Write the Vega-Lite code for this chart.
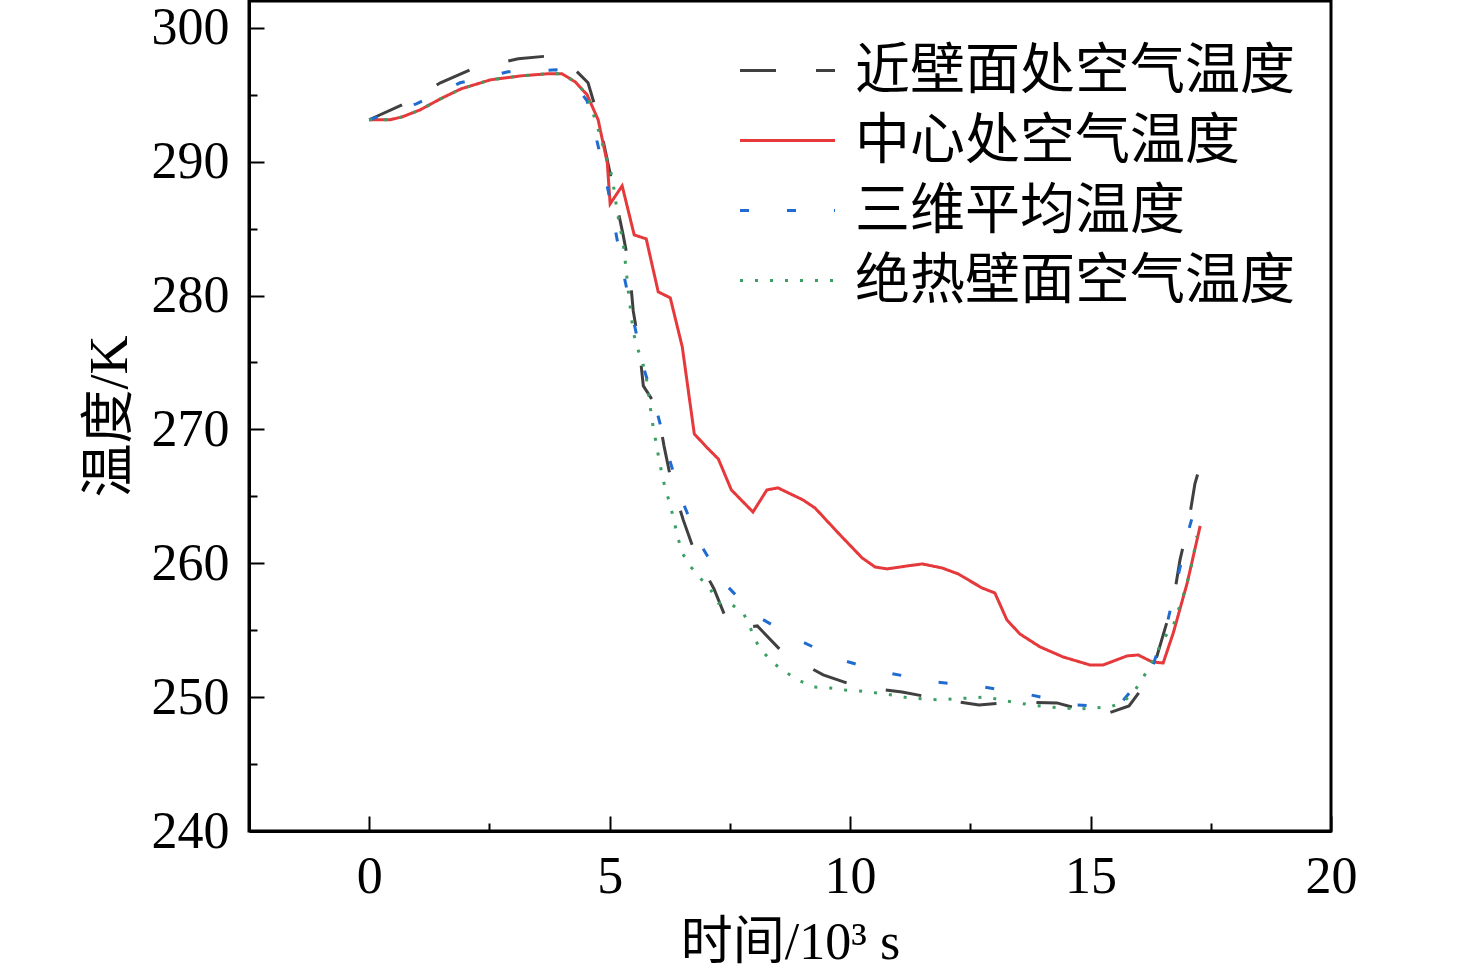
{
  "$schema": "https://vega.github.io/schema/vega-lite/v6.json",
  "width": 1082,
  "height": 830,
  "autosize": {"type": "none"},
  "padding": {"left": 249, "top": 1, "right": 145, "bottom": 144},
  "background": "white",
  "config": {"view": {"stroke": "black", "strokeWidth": 3}, "font": "Liberation Serif"},
  "data": {"values": [
    {"s":"近壁面处空气温度","t":0,"v":293.13},{"s":"近壁面处空气温度","t":0.69,"v":294.25},{"s":"近壁面处空气温度","t":1.48,"v":295.89},{"s":"近壁面处空气温度","t":2.2,"v":297.01},{"s":"近壁面处空气温度","t":3.1,"v":297.68},{"s":"近壁面处空气温度","t":3.97,"v":297.98},{"s":"近壁面处空气温度","t":4.55,"v":295.89},{"s":"近壁面处空气温度","t":4.76,"v":293.35},{"s":"近壁面处空气温度","t":5.28,"v":284.53},{"s":"近壁面处空气温度","t":5.41,"v":282.07},{"s":"近壁面处空气温度","t":5.49,"v":278.85},{"s":"近壁面处空气温度","t":5.61,"v":276.31},{"s":"近壁面处空气温度","t":5.7,"v":273.25},{"s":"近壁面处空气温度","t":5.99,"v":271.61},{"s":"近壁面处空气温度","t":6.13,"v":268.77},{"s":"近壁面处空气温度","t":6.28,"v":266.15},{"s":"近壁面处空气温度","t":6.53,"v":263.24},{"s":"近壁面处空气温度","t":6.78,"v":260.7},{"s":"近壁面处空气温度","t":7.17,"v":258.08},{"s":"近壁面处空气温度","t":7.44,"v":255.69},{"s":"近壁面处空气温度","t":7.53,"v":255.02},{"s":"近壁面处空气温度","t":8.07,"v":255.32},{"s":"近壁面处空气温度","t":8.61,"v":253.3},{"s":"近壁面处空气温度","t":9.44,"v":251.66},{"s":"近壁面处空气温度","t":10.17,"v":250.76},{"s":"近壁面处空气温度","t":11.08,"v":250.39},{"s":"近壁面处空气温度","t":11.83,"v":249.87},{"s":"近壁面处空气温度","t":12.68,"v":249.42},{"s":"近壁面处空气温度","t":13.47,"v":249.64},{"s":"近壁面处空气温度","t":14.3,"v":249.57},{"s":"近壁面处空气温度","t":15.07,"v":248.82},{"s":"近壁面处空气温度","t":15.26,"v":248.67},{"s":"近壁面处空气温度","t":15.8,"v":249.34},{"s":"近壁面处空气温度","t":16.26,"v":251.58},{"s":"近壁面处空气温度","t":16.51,"v":254.65},{"s":"近壁面处空气温度","t":16.72,"v":257.18},{"s":"近壁面处空气温度","t":16.86,"v":260.25},{"s":"近壁面处空气温度","t":17.03,"v":262.86},{"s":"近壁面处空气温度","t":17.17,"v":265.93},{"s":"近壁面处空气温度","t":17.3,"v":267.57},
    {"s":"中心处空气温度","t":0,"v":293.13},{"s":"中心处空气温度","t":0.44,"v":293.13},{"s":"中心处空气温度","t":0.69,"v":293.35},{"s":"中心处空气温度","t":1.06,"v":293.87},{"s":"中心处空气温度","t":1.48,"v":294.69},{"s":"中心处空气温度","t":1.91,"v":295.44},{"s":"中心处空气温度","t":2.52,"v":296.11},{"s":"中心处空气温度","t":3.16,"v":296.41},{"s":"中心处空气温度","t":3.7,"v":296.56},{"s":"中心处空气温度","t":4.01,"v":296.56},{"s":"中心处空气温度","t":4.28,"v":295.97},{"s":"中心处空气温度","t":4.53,"v":295.0},{"s":"中心处空气温度","t":4.76,"v":293.13},{"s":"中心处空气温度","t":4.95,"v":289.91},{"s":"中心处空气温度","t":5.01,"v":286.85},{"s":"中心处空气温度","t":5.26,"v":288.19},{"s":"中心处空气温度","t":5.51,"v":284.53},{"s":"中心处空气温度","t":5.76,"v":284.23},{"s":"中心处空气温度","t":6.01,"v":280.27},{"s":"中心处空气温度","t":6.26,"v":279.83},{"s":"中心处空气温度","t":6.51,"v":276.16},{"s":"中心处空气温度","t":6.76,"v":269.66},{"s":"中心处空气温度","t":7.03,"v":268.62},{"s":"中心处空气温度","t":7.26,"v":267.79},{"s":"中心处空气温度","t":7.53,"v":265.48},{"s":"中心处空气温度","t":7.98,"v":263.83},{"s":"中心处空气温度","t":8.27,"v":265.48},{"s":"中心处空气温度","t":8.5,"v":265.63},{"s":"中心处空气温度","t":9.02,"v":264.73},{"s":"中心处空气温度","t":9.27,"v":264.13},{"s":"中心处空气温度","t":9.79,"v":262.12},{"s":"中心处空气温度","t":10.25,"v":260.4},{"s":"中心处空气温度","t":10.52,"v":259.72},{"s":"中心处空气温度","t":10.77,"v":259.58},{"s":"中心处空气温度","t":11.19,"v":259.8},{"s":"中心处空气温度","t":11.5,"v":259.95},{"s":"中心处空气温度","t":11.91,"v":259.65},{"s":"中心处空气温度","t":12.25,"v":259.2},{"s":"中心处空气温度","t":12.74,"v":258.16},{"s":"中心处空气温度","t":13.01,"v":257.78},{"s":"中心处空气温度","t":13.26,"v":255.77},{"s":"中心处空气温度","t":13.53,"v":254.72},{"s":"中心处空气温度","t":13.95,"v":253.75},{"s":"中心处空气温度","t":14.43,"v":253.0},{"s":"中心处空气温度","t":14.99,"v":252.4},{"s":"中心处空气温度","t":15.26,"v":252.4},{"s":"中心处空气温度","t":15.76,"v":253.08},{"s":"中心处空气温度","t":15.99,"v":253.15},{"s":"中心处空气温度","t":16.28,"v":252.63},{"s":"中心处空气温度","t":16.51,"v":252.55},{"s":"中心处空气温度","t":16.72,"v":254.79},{"s":"中心处空气温度","t":17.01,"v":258.53},{"s":"中心处空气温度","t":17.28,"v":262.79},
    {"s":"三维平均温度","t":0,"v":293.13},{"s":"三维平均温度","t":0.98,"v":294.32},{"s":"三维平均温度","t":1.89,"v":295.89},{"s":"三维平均温度","t":2.89,"v":296.71},{"s":"三维平均温度","t":3.89,"v":296.86},{"s":"三维平均温度","t":4.07,"v":296.71},{"s":"三维平均温度","t":4.53,"v":294.55},{"s":"三维平均温度","t":4.76,"v":291.18},{"s":"三维平均温度","t":4.97,"v":287.82},{"s":"三维平均温度","t":5.14,"v":284.46},{"s":"三维平均温度","t":5.32,"v":281.1},{"s":"三维平均温度","t":5.51,"v":277.88},{"s":"三维平均温度","t":5.72,"v":274.45},{"s":"三维平均温度","t":5.99,"v":271.23},{"s":"三维平均温度","t":6.24,"v":267.79},{"s":"三维平均温度","t":6.51,"v":264.66},{"s":"三维平均温度","t":6.86,"v":261.59},{"s":"三维平均温度","t":7.34,"v":258.68},{"s":"三维平均温度","t":8.02,"v":256.14},{"s":"三维平均温度","t":8.92,"v":254.27},{"s":"三维平均温度","t":9.81,"v":252.78},{"s":"三维平均温度","t":10.79,"v":251.81},{"s":"三维平均温度","t":11.79,"v":251.13},{"s":"三维平均温度","t":12.77,"v":250.76},{"s":"三维平均温度","t":13.76,"v":250.16},{"s":"三维平均温度","t":14.72,"v":249.42},{"s":"三维平均温度","t":15.2,"v":249.3},{"s":"三维平均温度","t":15.65,"v":249.64},{"s":"三维平均温度","t":16.3,"v":252.4},{"s":"三维平均温度","t":16.61,"v":255.77},{"s":"三维平均温度","t":16.82,"v":259.05},{"s":"三维平均温度","t":17.03,"v":262.34},{"s":"三维平均温度","t":17.3,"v":265.85},
    {"s":"绝热壁面空气温度","t":0,"v":293.13},{"s":"绝热壁面空气温度","t":0.44,"v":293.13},{"s":"绝热壁面空气温度","t":0.69,"v":293.35},{"s":"绝热壁面空气温度","t":1.06,"v":293.87},{"s":"绝热壁面空气温度","t":1.48,"v":294.69},{"s":"绝热壁面空气温度","t":1.91,"v":295.44},{"s":"绝热壁面空气温度","t":2.52,"v":296.11},{"s":"绝热壁面空气温度","t":3.16,"v":296.41},{"s":"绝热壁面空气温度","t":3.7,"v":296.56},{"s":"绝热壁面空气温度","t":4.01,"v":296.56},{"s":"绝热壁面空气温度","t":4.28,"v":295.97},{"s":"绝热壁面空气温度","t":4.53,"v":295.0},{"s":"绝热壁面空气温度","t":4.74,"v":292.67},{"s":"绝热壁面空气温度","t":4.82,"v":291.71},{"s":"绝热壁面空气温度","t":4.91,"v":290.59},{"s":"绝热壁面空气温度","t":5.01,"v":289.46},{"s":"绝热壁面空气温度","t":5.07,"v":288.42},{"s":"绝热壁面空气温度","t":5.16,"v":286.18},{"s":"绝热壁面空气温度","t":5.22,"v":285.06},{"s":"绝热壁面空气温度","t":5.3,"v":283.41},{"s":"绝热壁面空气温度","t":5.38,"v":280.57},{"s":"绝热壁面空气温度","t":5.49,"v":277.28},{"s":"绝热壁面空气温度","t":5.57,"v":276.16},{"s":"绝热壁面空气温度","t":5.68,"v":275.04},{"s":"绝热壁面空气温度","t":5.76,"v":273.92},{"s":"绝热壁面空气温度","t":5.88,"v":270.71},{"s":"绝热壁面空气温度","t":5.99,"v":268.47},{"s":"绝热壁面空气温度","t":6.11,"v":266.23},{"s":"绝热壁面空气温度","t":6.28,"v":264.06},{"s":"绝热壁面空气温度","t":6.42,"v":261.89},{"s":"绝热壁面空气温度","t":6.51,"v":260.77},{"s":"绝热壁面空气温度","t":6.67,"v":259.8},{"s":"绝热壁面空气温度","t":6.86,"v":258.98},{"s":"绝热壁面空气温度","t":7.09,"v":258.08},{"s":"绝热壁面空气温度","t":7.26,"v":257.03},{"s":"绝热壁面空气温度","t":7.55,"v":256.89},{"s":"绝热壁面空气温度","t":7.78,"v":256.29},{"s":"绝热壁面空气温度","t":7.92,"v":255.24},{"s":"绝热壁面空气温度","t":8.02,"v":254.27},{"s":"绝热壁面空气温度","t":8.19,"v":253.37},{"s":"绝热壁面空气温度","t":8.4,"v":252.55},{"s":"绝热壁面空气温度","t":8.69,"v":251.8},{"s":"绝热壁面空气温度","t":8.96,"v":251.21},{"s":"绝热壁面空气温度","t":9.23,"v":250.76},{"s":"绝热壁面空气温度","t":9.58,"v":250.68},{"s":"绝热壁面空气温度","t":9.9,"v":250.53},{"s":"绝热壁面空气温度","t":10.21,"v":250.46},{"s":"绝热壁面空气温度","t":10.56,"v":250.31},{"s":"绝热壁面空气温度","t":10.87,"v":250.16},{"s":"绝热壁面空气温度","t":11.21,"v":249.94},{"s":"绝热壁面空气温度","t":11.52,"v":249.87},{"s":"绝热壁面空气温度","t":11.87,"v":249.79},{"s":"绝热壁面空气温度","t":12.18,"v":249.87},{"s":"绝热壁面空气温度","t":12.49,"v":249.94},{"s":"绝热壁面空气温度","t":12.85,"v":250.01},{"s":"绝热壁面空气温度","t":13.12,"v":249.79},{"s":"绝热壁面空气温度","t":13.47,"v":249.57},{"s":"绝热壁面空气温度","t":13.78,"v":249.42},{"s":"绝热壁面空气温度","t":14.1,"v":249.27},{"s":"绝热壁面空气温度","t":14.43,"v":249.19},{"s":"绝热壁面空气温度","t":14.74,"v":249.12},{"s":"绝热壁面空气温度","t":15.09,"v":249.19},{"s":"绝热壁面空气温度","t":15.41,"v":249.27},{"s":"绝热壁面空气温度","t":15.68,"v":249.64},{"s":"绝热壁面空气温度","t":15.9,"v":250.39},{"s":"绝热壁面空气温度","t":16.09,"v":251.43},{"s":"绝热壁面空气温度","t":16.24,"v":252.4},{"s":"绝热壁面空气温度","t":16.38,"v":253.37},{"s":"绝热壁面空气温度","t":16.53,"v":254.42},{"s":"绝热壁面空气温度","t":16.72,"v":255.32},{"s":"绝热壁面空气温度","t":16.82,"v":256.44},{"s":"绝热壁面空气温度","t":16.92,"v":257.48},{"s":"绝热壁面空气温度","t":17.01,"v":258.6},{"s":"绝热壁面空气温度","t":17.09,"v":259.72},{"s":"绝热壁面空气温度","t":17.15,"v":260.77},{"s":"绝热壁面空气温度","t":17.21,"v":262.04}
  ]},
  "mark": {"type": "line", "strokeWidth": 3, "clip": true},
  "encoding": {
    "x": {
      "field": "t", "type": "quantitative",
      "scale": {"domain": [-2.5, 20], "nice": false, "zero": false},
      "axis": {
        "values": [0, 2.5, 5, 7.5, 10, 12.5, 15, 17.5, 20],
        "labelExpr": "datum.value % 5 === 0 ? datum.label : ''",
        "tickSize": {"condition": {"test": "datum.value % 5 === 0", "value": -15}, "value": -8},
        "tickWidth": 2, "tickColor": "black",
        "domainColor": "black", "domainWidth": 3,
        "labelFont": "Liberation Serif", "labelFontSize": 52, "labelColor": "black",
        "labelPadding": 35, "labelFlush": false, "labelOverlap": false, "labelBound": false,
        "grid": false,
        "title": "时间/10³ s",
        "titleFont": "Liberation Serif, Noto Sans CJK SC", "titleFontSize": 52,
        "titleFontWeight": "normal", "titleColor": "black", "titlePadding": 8
      }
    },
    "y": {
      "field": "v", "type": "quantitative",
      "scale": {"domain": [240, 302], "nice": false, "zero": false},
      "axis": {
        "values": [240, 245, 250, 255, 260, 265, 270, 275, 280, 285, 290, 295, 300],
        "labelExpr": "datum.value % 10 === 0 ? datum.label : ''",
        "tickSize": {"condition": {"test": "datum.value % 10 === 0", "value": -15}, "value": -8},
        "tickWidth": 2, "tickColor": "black",
        "domainColor": "black", "domainWidth": 3,
        "labelFont": "Liberation Serif", "labelFontSize": 52, "labelColor": "black",
        "labelPadding": 35, "labelFlush": false, "labelOverlap": false, "labelBound": false,
        "grid": false,
        "title": "温度/K",
        "titleFont": "Liberation Serif, Noto Sans CJK SC", "titleFontSize": 54,
        "titleFontWeight": "normal", "titleColor": "black", "titlePadding": 14
      }
    },
    "color": {
      "field": "s", "type": "nominal",
      "scale": {"domain": ["近壁面处空气温度", "中心处空气温度", "三维平均温度", "绝热壁面空气温度"], "range": ["#404040", "#e5393c", "#1f6bd0", "#3c9e62"]},
      "legend": {
        "orient": "none", "legendX": 511, "legendY": 42, "title": null,
        "symbolType": "M-2,0H2", "symbolSize": 2256, "symbolStrokeWidth": 3,
        "labelFont": "Liberation Serif, Noto Sans CJK SC", "labelFontSize": 55, "labelColor": "black",
        "labelOffset": 40, "rowPadding": 14, "padding": 0, "labelLimit": 1000
      }
    },
    "strokeDash": {
      "field": "s", "type": "nominal",
      "scale": {"domain": ["近壁面处空气温度", "中心处空气温度", "三维平均温度", "绝热壁面空气温度"], "range": [[36, 40], [1, 0], [9, 38], [3, 12]]}
    }
  }
}
